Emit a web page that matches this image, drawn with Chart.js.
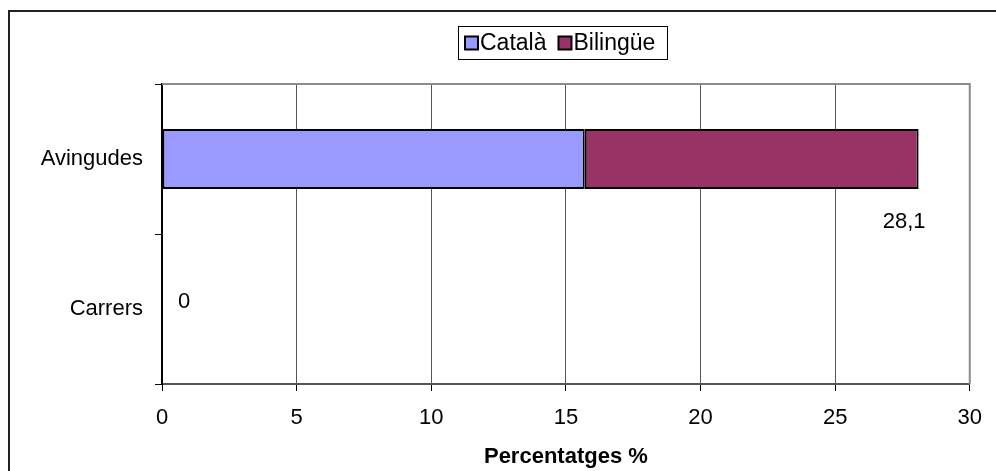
<!DOCTYPE html>
<html>
<head>
<meta charset="utf-8">
<script src="https://cdn.jsdelivr.net/npm/chart.js@4/dist/chart.umd.min.js"></script>
<style>
  html, body { margin: 0; padding: 0; background: #fff; }
  #wrap { width: 996px; height: 471px; position: relative; }
</style>
</head>
<body>
<div id="wrap"><canvas id="c" width="996" height="471"></canvas></div>
<script>
// Street-name language shares, in percent
const categories = ['Avingudes', 'Carrers'];
const catala = [15.7, 0];
const bilingue = [12.4, 0];
const seriesNames = ['Català', 'Bilingüe'];
const xTicks = [0, 5, 10, 15, 20, 25, 30];

const FONT = '"Liberation Sans", Arial, sans-serif';
const SIZE = 22;
const fillColors = ['#9999FF', '#993366'];

// White page with the outer frame of the chart object
const frame = {
  id: 'frame',
  beforeDraw(chart) {
    const ctx = chart.ctx;
    ctx.save();
    ctx.fillStyle = '#fff';
    ctx.fillRect(0, 0, chart.width, chart.height);
    ctx.strokeStyle = '#222';
    ctx.lineWidth = 2;
    ctx.strokeRect(9, 11, chart.width + 20, chart.height + 20);
    ctx.restore();
  },
  afterDraw(chart) {
    // grey top and right edges of the plot area
    const a = chart.chartArea, ctx = chart.ctx;
    ctx.save();
    ctx.strokeStyle = '#8c8c8c';
    ctx.lineWidth = 2;
    ctx.beginPath();
    ctx.moveTo(a.left, a.top);
    ctx.lineTo(a.right, a.top);
    ctx.lineTo(a.right, a.bottom);
    ctx.stroke();
    ctx.restore();
  }
};

// Boxed legend centred over the plot area
const boxLegend = {
  id: 'boxLegend',
  afterDraw(chart) {
    const ctx = chart.ctx, a = chart.chartArea;
    ctx.save();
    ctx.font = '23px ' + FONT;
    ctx.textBaseline = 'middle';
    const sq = 13, gap = 2, itemGap = 12, padL = 7, padR = 12;
    const items = chart.data.datasets.map(d => ({ label: d.label, color: d.backgroundColor }));
    let w = padL + padR;
    items.forEach((it, i) => {
      it.tw = ctx.measureText(it.label).width;
      w += sq + gap + it.tw + (i < items.length - 1 ? itemGap : 0);
    });
    w = Math.round(w);
    const cx = (a.left + a.right) / 2;
    const top = 26, h = 33;
    let x = Math.round(cx - w / 2 - 3);
    ctx.strokeStyle = '#000';
    ctx.lineWidth = 1;
    ctx.strokeRect(x + 0.5, top + 0.5, w, h);
    const cy = top + h / 2 + 0.5;
    x += padL;
    items.forEach(it => {
      ctx.fillStyle = it.color;
      ctx.fillRect(x, cy - sq / 2, sq, sq);
      ctx.lineWidth = 2;
      ctx.strokeStyle = '#000';
      ctx.strokeRect(x, cy - sq / 2, sq, sq);
      x += sq + gap;
      ctx.fillStyle = '#000';
      ctx.textAlign = 'left';
      ctx.fillText(it.label, x, cy + 1);
      x += it.tw + itemGap;
    });
    ctx.restore();
  }
};

// Total of each stacked bar, written beside it
const totals = {
  id: 'totals',
  afterDatasetsDraw(chart) {
    const ctx = chart.ctx;
    const xs = chart.scales.x, ys = chart.scales.y;
    ctx.save();
    ctx.font = SIZE + 'px ' + FONT;
    ctx.fillStyle = '#000';
    ctx.textBaseline = 'middle';
    categories.forEach((c, i) => {
      const total = catala[i] + bilingue[i];
      const txt = String(Math.round(total * 10) / 10).replace('.', ',');
      const yc = ys.getPixelForValue(i);
      if (total > 0) {
        ctx.textAlign = 'right';
        ctx.fillText(txt, xs.getPixelForValue(total) + 7, yc + 63);
      } else {
        ctx.textAlign = 'left';
        ctx.fillText(txt, xs.getPixelForValue(total) + 16, yc - 7);
      }
    });
    ctx.restore();
  }
};

new Chart(document.getElementById('c'), {
  type: 'bar',
  data: {
    labels: categories,
    datasets: [
      { label: seriesNames[0], data: catala, backgroundColor: fillColors[0] },
      { label: seriesNames[1], data: bilingue, backgroundColor: fillColors[1] }
    ].map(d => Object.assign(d, {
      borderColor: '#000', borderWidth: 2, borderSkipped: false,
      barPercentage: 0.4, categoryPercentage: 1
    }))
  },
  options: {
    indexAxis: 'y',
    responsive: false,
    animation: false,
    events: [],
    layout: { padding: { top: 84, right: 26, left: 0, bottom: 0 } },
    plugins: { legend: { display: false }, tooltip: { enabled: false } },
    scales: {
      x: {
        stacked: true,
        min: xTicks[0],
        max: xTicks[xTicks.length - 1],
        afterBuildTicks(s) { s.ticks = xTicks.map(v => ({ value: v })); },
        afterFit(s) { s.height = 87; },
        ticks: { color: '#000', font: { family: FONT, size: SIZE }, padding: 14, maxRotation: 0 },
        grid: { color: '#555', lineWidth: 1, tickLength: 7, tickColor: '#000', tickWidth: 1 },
        border: { color: '#555', width: 2 },
        title: {
          display: true, text: 'Percentatges %', color: '#000',
          font: { family: FONT, size: SIZE, weight: 'bold' },
          padding: { top: 0, bottom: 1 }
        }
      },
      y: {
        stacked: true,
        afterFit(s) { s.width = 162; },
        ticks: { color: '#000', font: { family: FONT, size: SIZE }, padding: 12 },
        grid: { drawOnChartArea: false, tickLength: 7, color: '#000', tickWidth: 1, offset: true },
        border: { color: '#000', width: 2 }
      }
    }
  },
  plugins: [frame, boxLegend, totals]
});
</script>
</body>
</html>
